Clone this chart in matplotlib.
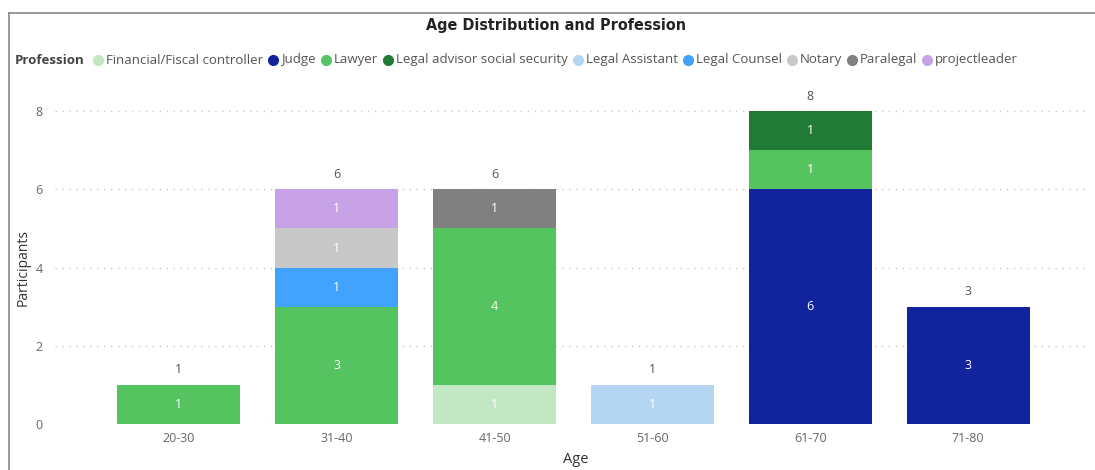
import numpy as np
import matplotlib
matplotlib.use("Agg")
import matplotlib.pyplot as plt
from matplotlib.lines import Line2D

plt.rcParams['font.family'] = ['Open Sans', 'DejaVu Sans']

# data
ages = ["20-30", "31-40", "41-50", "51-60", "61-70", "71-80"]
professions = ["Financial/Fiscal controller", "Judge", "Lawyer",
               "Legal advisor social security", "Legal Assistant",
               "Legal Counsel", "Notary", "Paralegal", "projectleader"]
financial = [0, 0, 1, 0, 0, 0]
judge = [0, 0, 0, 0, 6, 3]
lawyer = [1, 3, 4, 0, 1, 0]
legal_advisor = [0, 0, 0, 0, 1, 0]
legal_assistant = [0, 0, 0, 1, 0, 0]
legal_counsel = [0, 1, 0, 0, 0, 0]
notary = [0, 1, 0, 0, 0, 0]
paralegal = [0, 0, 1, 0, 0, 0]
projectleader = [0, 1, 0, 0, 0, 0]
series = [financial, judge, lawyer, legal_advisor, legal_assistant,
          legal_counsel, notary, paralegal, projectleader]
colors = ["#C1E8C3", "#12239E", "#55C360", "#217A36", "#B4D6F2",
          "#41A3FD", "#C8C8C8", "#808080", "#C8A2E6"]

fig = plt.figure(figsize=(10.95, 4.70), dpi=100)
ax = fig.add_axes([0.0502, 0.0979, 0.945, 0.7106])

x = np.arange(len(ages))
bottom = np.zeros(len(ages))
for vals, col in zip(series, colors):
    vals = np.array(vals, dtype=float)
    ax.bar(x, vals, 0.78, bottom=bottom, color=col, zorder=3)
    for i, v in enumerate(vals):
        if v > 0:
            ax.text(x[i], bottom[i] + v / 2, "%d" % v, ha="center", va="center",
                    color="white", fontsize=9, zorder=4)
    bottom += vals

for i, tot in enumerate(bottom):
    ax.text(x[i], tot + 0.22, "%d" % tot, ha="center", va="bottom",
            color="#555555", fontsize=9)

ax.set_xlim(-0.785, 5.77)
ax.set_ylim(0, 8.54)
ax.set_yticks([0, 2, 4, 6, 8])
ax.set_xticks(x)
ax.set_xticklabels(ages)
ax.tick_params(length=0, colors="#666666", labelsize=9)
ax.tick_params(axis="y", pad=9)
ax.tick_params(axis="x", pad=6)
ax.grid(axis="y", color="#C8C8C8", linestyle=(0, (1, 4)), linewidth=1, zorder=0)
for s in ax.spines.values():
    s.set_visible(False)

fig.text(0.0210, 0.430, "Participants", rotation=90, ha="center", va="center",
         fontsize=10, color="#333333")
fig.text(0.526, 0.023, "Age", ha="center", va="center", fontsize=10.5, color="#333333")
fig.text(0.508, 0.945, "Age Distribution and Profession", ha="center", va="center",
         fontsize=11.5, fontweight="bold", color="#222222", family=["DejaVu Sans"],
         fontstretch="condensed")

# frame
fig.add_artist(Line2D([9 / 1095, 9 / 1095], [0, 1 - 13 / 470], color="#888888", lw=1.2))
fig.add_artist(Line2D([9 / 1095, 1], [1 - 13 / 470, 1 - 13 / 470], color="#888888", lw=1.2))

# legend drawn by hand
fig.canvas.draw()
r = fig.canvas.get_renderer()
ly = 1 - 60 / 470
t = fig.text(15 / 1095, ly, "Profession", ha="left", va="center", fontsize=9.5,
             fontweight="bold", color="#444444")
xpos = t.get_window_extent(r).x1 + 8
for name, col in zip(professions, colors):
    fig.add_artist(Line2D([(xpos + 5) / 1095], [ly], marker="o", markersize=7,
                          color=col, linestyle="none"))
    tt = fig.text((xpos + 13) / 1095, ly, name, ha="left", va="center",
                  fontsize=9.5, color="#555555")
    xpos = tt.get_window_extent(r).x1 + 5

fig.savefig("out.png", dpi=100)
